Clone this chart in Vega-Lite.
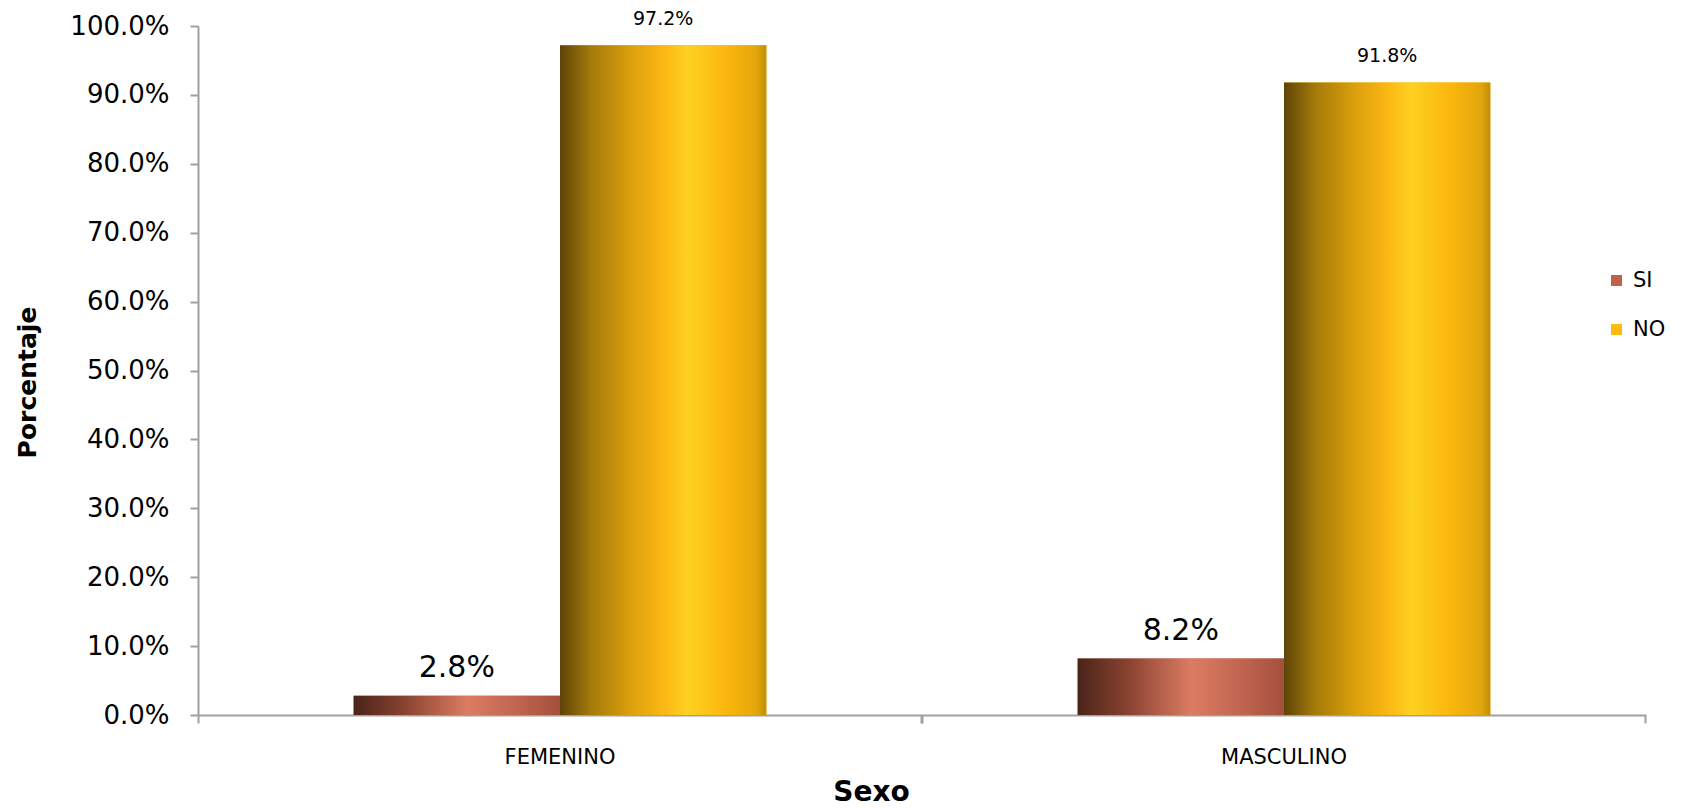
{
  "$schema": "https://vega.github.io/schema/vega-lite/v6.json",
  "width": 1448,
  "height": 689,
  "autosize": {"type": "none"},
  "padding": {"left": 198, "top": 26, "right": 35, "bottom": 93},
  "background": "white",
  "config": {
    "view": {"stroke": null},
    "font": "DejaVu Sans",
    "axis": {"labelFont": "DejaVu Sans", "titleFont": "DejaVu Sans", "labelColor": "#000000", "titleColor": "#000000"}
  },
  "data": {
    "values": [
      {"sexo": "FEMENINO", "respuesta": "SI", "valor": 0.028},
      {"sexo": "FEMENINO", "respuesta": "NO", "valor": 0.972},
      {"sexo": "MASCULINO", "respuesta": "SI", "valor": 0.082},
      {"sexo": "MASCULINO", "respuesta": "NO", "valor": 0.918}
    ]
  },
  "encoding": {
    "x": {"field": "sexo", "type": "nominal", "sort": ["FEMENINO", "MASCULINO"], "scale": {"domain": ["FEMENINO", "MASCULINO"], "paddingInner": 0.43, "paddingOuter": 0.215}},
    "xOffset": {"field": "respuesta", "type": "nominal", "sort": ["SI", "NO"], "scale": {"domain": ["SI", "NO"], "paddingInner": 0, "paddingOuter": 0}},
    "y": {"field": "valor", "type": "quantitative", "scale": {"domain": [0, 1], "nice": false, "zero": true},
      "axis": {"values": [0, 0.1, 0.2, 0.3, 0.4, 0.5, 0.6, 0.7, 0.8, 0.9, 1.0], "format": ".1%", "labelFontSize": 26, "labelPadding": 21, "tickSize": 8, "tickWidth": 2, "tickColor": "#a0a0a0", "domainColor": "#a0a0a0", "domainWidth": 2, "grid": false,
        "title": "Porcentaje", "titleFontSize": 25, "titleFontWeight": "bold", "titleX": -171, "titleY": 356, "titleAngle": -90, "titleAlign": "center", "titleBaseline": "middle"}}
  },
  "layer": [
    {
      "mark": {"type": "bar"},
      "encoding": {
        "x": {"field": "sexo", "type": "nominal", "sort": ["FEMENINO", "MASCULINO"],
          "axis": {"orient": "bottom", "bandPosition": -0.377, "labels": false, "ticks": true, "tickSize": 8, "tickWidth": 2, "tickColor": "#a0a0a0", "domain": true, "domainColor": "#a0a0a0", "domainWidth": 2, "grid": false,
            "title": "Sexo", "titleFontSize": 28, "titleFontWeight": "bold", "titleX": 673, "titleY": 77, "titleBaseline": "middle", "titleAlign": "center"}},
        "color": {"field": "respuesta", "type": "nominal", "sort": ["SI", "NO"],
          "scale": {"domain": ["SI", "NO"], "range": ["#C0614A", "#FDBA11"]},
          "legend": {"title": null, "orient": "none", "legendX": 1408, "legendY": 244, "labelFont": "DejaVu Sans", "labelFontSize": 21, "labelColor": "#000000", "symbolType": "square", "symbolSize": 121, "symbolStrokeWidth": 0, "rowPadding": 27, "labelOffset": 6}}
      }
    },
    {
      "transform": [{"filter": "datum.respuesta === 'SI'"}],
      "mark": {"type": "bar", "color": {"gradient": "linear", "x1": 0, "x2": 1, "y1": 0, "y2": 0, "stops": [
        {"offset": 0, "color": "#4a2419"},
        {"offset": 0.25, "color": "#8a4331"},
        {"offset": 0.55, "color": "#dc7c62"},
        {"offset": 0.78, "color": "#c26651"},
        {"offset": 1, "color": "#a4503d"}]}},
      "encoding": {
        "x": {"field": "sexo", "type": "nominal", "sort": ["FEMENINO", "MASCULINO"],
          "axis": {"orient": "bottom", "bandPosition": 1.377, "labels": false, "ticks": true, "tickSize": 8, "tickWidth": 2, "tickColor": "#a0a0a0", "domain": false, "grid": false, "title": null}}
      }
    },
    {
      "transform": [{"filter": "datum.respuesta === 'NO'"}],
      "mark": {"type": "bar", "color": {"gradient": "linear", "x1": 0, "x2": 1, "y1": 0, "y2": 0, "stops": [
        {"offset": 0, "color": "#5e4408"},
        {"offset": 0.15, "color": "#a57a0a"},
        {"offset": 0.35, "color": "#dca10c"},
        {"offset": 0.5, "color": "#fbb714"},
        {"offset": 0.62, "color": "#fdd120"},
        {"offset": 0.8, "color": "#fcb70e"},
        {"offset": 0.95, "color": "#e4a70c"},
        {"offset": 1, "color": "#c08e0a"}]}},
      "encoding": {
        "x": {"field": "sexo", "type": "nominal", "sort": ["FEMENINO", "MASCULINO"],
          "axis": {"orient": "bottom", "labels": true, "labelFontSize": 21, "labelPadding": 31, "labelAngle": 0, "ticks": false, "domain": false, "grid": false, "title": null}}
      }
    },
    {
      "transform": [{"filter": "datum.respuesta === 'SI'"}],
      "mark": {"type": "text", "font": "DejaVu Sans", "fontSize": 30, "baseline": "middle", "dy": -28, "color": "#000000"},
      "encoding": {
        "x": {"field": "sexo", "type": "nominal", "sort": ["FEMENINO", "MASCULINO"], "axis": null},
        "text": {"field": "valor", "type": "quantitative", "format": ".1%"}
      }
    },
    {
      "transform": [{"filter": "datum.respuesta === 'NO'"}],
      "mark": {"type": "text", "font": "DejaVu Sans", "fontSize": 19, "baseline": "middle", "dy": -26, "color": "#000000"},
      "encoding": {
        "x": {"field": "sexo", "type": "nominal", "sort": ["FEMENINO", "MASCULINO"], "axis": null},
        "text": {"field": "valor", "type": "quantitative", "format": ".1%"}
      }
    }
  ],
  "resolve": {"axis": {"x": "independent"}}
}
